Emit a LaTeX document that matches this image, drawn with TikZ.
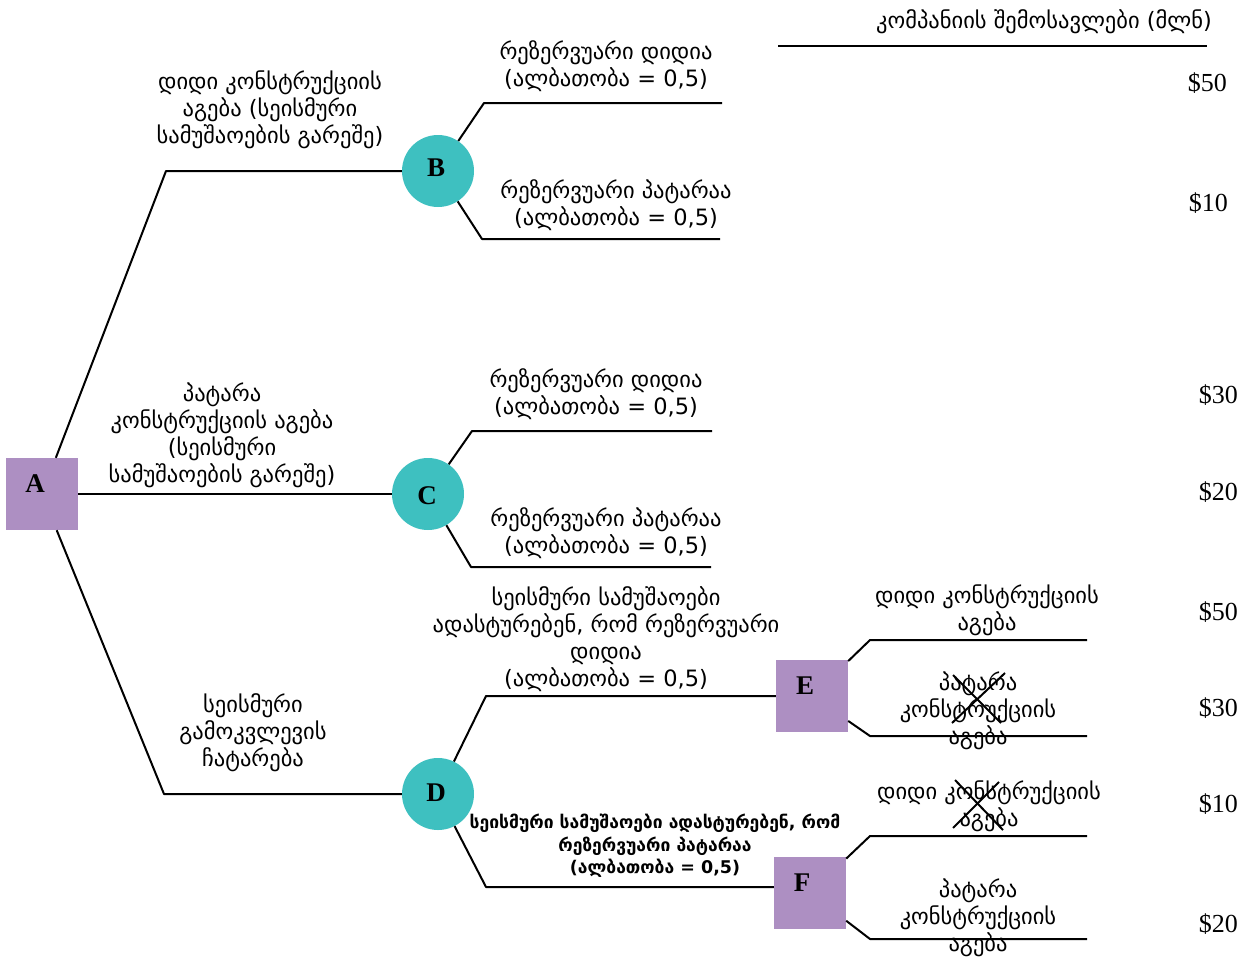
\documentclass[tikz,border=0pt]{standalone}
\usepackage{fontspec}
\usetikzlibrary{calc}
\setmainfont{DejaVu Sans}
\newfontfamily\tms{Liberation Serif}
\definecolor{nodepurple}{RGB}{173,143,194}
\definecolor{nodeteal}{RGB}{62,192,192}
\begin{document}
\begin{tikzpicture}[x=1pt,y=-1pt,
  decision/.style={rectangle, fill=nodepurple, minimum width=72pt, minimum height=72pt, inner sep=0pt},
  chance/.style={circle, fill=nodeteal, minimum size=72pt, inner sep=0pt},
  branch/.style={line width=2pt, line join=round},
  lbl/.style={align=center, inner sep=0pt, font=\fontsize{22.5}{27}\selectfont},
  lblbold/.style={align=center, inner sep=0pt, font=\bfseries\fontsize{17.5}{22.5}\selectfont},
  pay/.style={anchor=east, inner sep=0pt, font=\tms\fontsize{26}{30}\selectfont},
  letter/.style={inner sep=0pt, font=\tms\bfseries\fontsize{27}{30}\selectfont},
  cross/.style={line width=2pt}]
\useasboundingbox (0,0) rectangle (1246,958);

% decision and chance nodes
\node[decision] (A) at (42,494) {};
\node[chance]   (B) at (438,171) {};
\node[chance]   (C) at (428,494) {};
\node[chance]   (D) at (438,794) {};
\node[decision] (E) at (812,696) {};
\node[decision] (F) at (810,893) {};

\node[letter] (Aname) at (35,484) {A};
\node[letter] (Bname) at (436,168) {B};
\node[letter] (Cname) at (427,496) {C};
\node[letter] (Dname) at (436,793) {D};
\node[letter] (Ename) at (805,686) {E};
\node[letter] (Fname) at (802,883) {F};

% bends of the branches and free ends
\coordinate (ab) at (166,171);
\coordinate (ad) at (164,794);
\coordinate (bu) at (484,103);  \coordinate (bue) at (722,103);
\coordinate (bd) at (482,239);  \coordinate (bde) at (720,239);
\coordinate (cu) at (472,431);  \coordinate (cue) at (712,431);
\coordinate (cd) at (471,567);  \coordinate (cde) at (711,567);
\coordinate (du) at (486,696);
\coordinate (dd) at (486,887);
\coordinate (eu) at (870,640);  \coordinate (eue) at (1087,640);
\coordinate (ed) at (870,736);  \coordinate (ede) at (1087,736);
\coordinate (fu) at (870,836);  \coordinate (fue) at (1087,836);
\coordinate (fd) at (870,939);  \coordinate (fde) at (1087,939);
\coordinate (hl) at (778,46);   \coordinate (hr) at (1207,46);

% branches
\draw[branch] (A) -- (ab) -- (B);
\draw[branch] (A) -- (C);
\draw[branch] (A) -- (ad) -- (D);
\draw[branch] (B) -- (bu) -- (bue);
\draw[branch] (B) -- (bd) -- (bde);
\draw[branch] (C) -- (cu) -- (cue);
\draw[branch] (C) -- (cd) -- (cde);
\draw[branch] (D) -- (du) -- (E);
\draw[branch] (D) -- (dd) -- (dd -| F.west);
\draw[branch] (E) -- (eu) -- (eue);
\draw[branch] (E) -- (ed) -- (ede);
\draw[branch] (F) -- (fu) -- (fue);
\draw[branch] (F) -- (fd) -- (fde);
\draw[branch] (hl) -- (hr);

% branch labels
\node[lbl] (hdr) at (1044,22) {კომპანიის შემოსავლები (მლნ)};
\node[lbl] (lAB) at (270,110) {დიდი კონსტრუქციის\\აგება (სეისმური\\სამუშაოების გარეშე)};
\node[lbl] (lAC) at (222,435) {პატარა\\კონსტრუქციის აგება\\(სეისმური\\სამუშაოების გარეშე)};
\node[lbl] (lAD) at (253,733) {სეისმური\\გამოკვლევის\\ჩატარება};
\node[lbl] (lBu) at (606,66) {რეზერვუარი დიდია\\(ალბათობა = 0,5)};
\node[lbl] (lBd) at (616,205) {რეზერვუარი პატარაა\\(ალბათობა = 0,5)};
\node[lbl] (lCu) at (596,394) {რეზერვუარი დიდია\\(ალბათობა = 0,5)};
\node[lbl] (lCd) at (606,533) {რეზერვუარი პატარაა\\(ალბათობა = 0,5)};
\node[lbl] (lDu) at (606,639) {სეისმური სამუშაოები\\ადასტურებენ, რომ რეზერვუარი\\დიდია\\(ალბათობა = 0,5)};
\node[lblbold] (lDd) at (655,846) {სეისმური სამუშაოები ადასტურებენ, რომ\\რეზერვუარი პატარაა\\(ალბათობა = 0,5)};
\node[lbl] (lEu) at (987,610) {დიდი კონსტრუქციის\\აგება};
\node[lbl] (lEd) at (978,711) {პატარა\\კონსტრუქციის\\აგება};
\node[lbl] (lFu) at (989,806) {დიდი კონსტრუქციის\\აგება};
\node[lbl] (lFd) at (978,918) {პატარა\\კონსტრუქციის\\აგება};

% rejected options
\coordinate (xE) at (978,699);
\coordinate (xF) at (978,805);
\draw[cross] ($(xE)+(-25,-24)$) -- ($(xE)+(23,24)$);
\draw[cross] ($(xE)+(-26,24)$) -- ($(xE)+(27,-26)$);
\draw[cross] ($(xF)+(-23,-25)$) -- ($(xF)+(25,25)$);
\draw[cross] ($(xF)+(-25,23)$) -- ($(xF)+(21,-23)$);

% payoffs
\node[pay] (p1) at (1227,83) {\$50};
\node[pay] (p2) at (1228,203) {\$10};
\node[pay] (p3) at (1238,395) {\$30};
\node[pay] (p4) at (1238,492) {\$20};
\node[pay] (p5) at (1238,612) {\$50};
\node[pay] (p6) at (1238,708) {\$30};
\node[pay] (p7) at (1238,804) {\$10};
\node[pay] (p8) at (1238,924) {\$20};
\end{tikzpicture}
\end{document}
